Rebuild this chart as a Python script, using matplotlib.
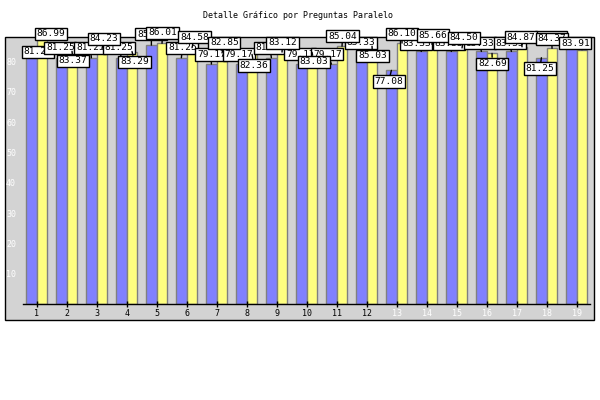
import matplotlib.pyplot as plt
from matplotlib.patches import Rectangle
import numpy as np

# datos por pregunta
preguntas = list(range(1, 20))
serie_azul = [81.25, 81.25, 81.25, 81.25, 85.42, 81.25, 79.17, 79.17, 81.25, 79.17,
              79.17, 83.33, 77.08, 83.33, 83.33, 83.33, 83.33, 81.25, 85.42]
serie_amarilla = [86.99, 83.37, 84.23, 83.29, 86.01, 84.58, 82.85, 82.36, 83.12, 83.03,
                  85.04, 85.03, 86.10, 85.66, 84.50, 82.69, 84.87, 84.37, 83.91]
y_ticks = [10, 20, 30, 40, 50, 60, 70, 80]

# desplazamiento de cada etiqueta (pixeles, y hacia abajo)
off_azul = [(6.6, -5.8), (-1, -9.8), (-1, -9.8), (-2.4, -9.8), (0, -11), (1, -9.8),
            (0, -9.4), (-2.4, -9.4), (-1.4, -9.8), (-1, -9.8), (-4, -9.8), (-0.7, -8.5),
            (-2.7, 11.3), (-5, -7.8), (-2.4, -7.8), (-1.7, -8.2), (-1.7, -8.2),
            (-1.4, 10.9), (-20, -8)]
off_amarilla = [(9, -6.4), (1, 9.6), (1.8, -9.8), (2.5, 10.4), (0.5, -10.4), (2.5, -10.4),
                (2.3, -10), (2, 11), (0.5, -9.1), (2, 9.6), (0.5, -10), (0.5, 9.6),
                (0, -9.3), (0.7, -9), (1.7, -10.2), (0.3, 10.5), (-1.2, -9.6),
                (-0.3, -9.6), (-6.7, -6.5)]

W, H = 600, 400
fig = plt.figure(figsize=(6, 4), dpi=100)

# marco gris
fig.patches.append(Rectangle((5 / W, 1 - 320 / H), 589 / W, 283 / H,
                             transform=fig.transFigure, facecolor='#d3d3d3',
                             edgecolor='black', linewidth=1, zorder=-10))

fig.text(298 / W, 1 - 15 / H, 'Detalle Gráfico por Preguntas Paralelo',
         ha='center', va='center', family='DejaVu Sans Mono', fontsize=6)

ax = fig.add_axes([23 / W, 1 - 304 / H, 567 / W, 267 / H])
ax.set_facecolor('none')
ax.set_zorder(1)

x = np.array(preguntas)
bw = 0.355
ax.bar(x - bw / 2, serie_azul, bw, color='#8080ff', edgecolor='#808080', linewidth=1)
ax.bar(x + bw / 2, serie_amarilla, bw, color='#ffff80', edgecolor='#808080', linewidth=1)

ax.set_xlim(0.543, 19.443)
ax.set_ylim(0, 88.1)

for spine in ['left', 'right', 'top']:
    ax.spines[spine].set_visible(False)
ax.spines['bottom'].set_linewidth(1)

ax.set_xticks(x)
ax.set_xticklabels([str(p) for p in preguntas], family='DejaVu Sans Mono', fontsize=6)
for i, lbl in enumerate(ax.get_xticklabels()):
    lbl.set_color('black' if i < 12 else 'white')
ax.tick_params(axis='x', direction='inout', length=5, width=1, pad=1)

ax.set_yticks(y_ticks)
ax.set_yticklabels([str(v) for v in y_ticks], family='DejaVu Sans Mono', fontsize=6,
                   color='white')
ax.tick_params(axis='y', length=0, pad=5)


def etiqueta(xp, val, off):
    ax.annotate(f'{val:.2f}', xy=(xp, val), xytext=(off[0], -off[1]),
                textcoords='offset pixels', ha='center', va='center',
                family='DejaVu Sans Mono', fontsize=6.8, clip_on=False,
                bbox=dict(boxstyle='square,pad=0.18', facecolor='white',
                          edgecolor='black', linewidth=1),
                arrowprops=dict(arrowstyle='-', color='black', lw=1,
                                shrinkA=0, shrinkB=0),
                annotation_clip=False, zorder=5)


for i in range(len(preguntas)):
    etiqueta(x[i] - bw / 2, serie_azul[i], off_azul[i])
for i in range(len(preguntas)):
    etiqueta(x[i] + bw / 2, serie_amarilla[i], off_amarilla[i])

fig.savefig('out.png', dpi=100)
